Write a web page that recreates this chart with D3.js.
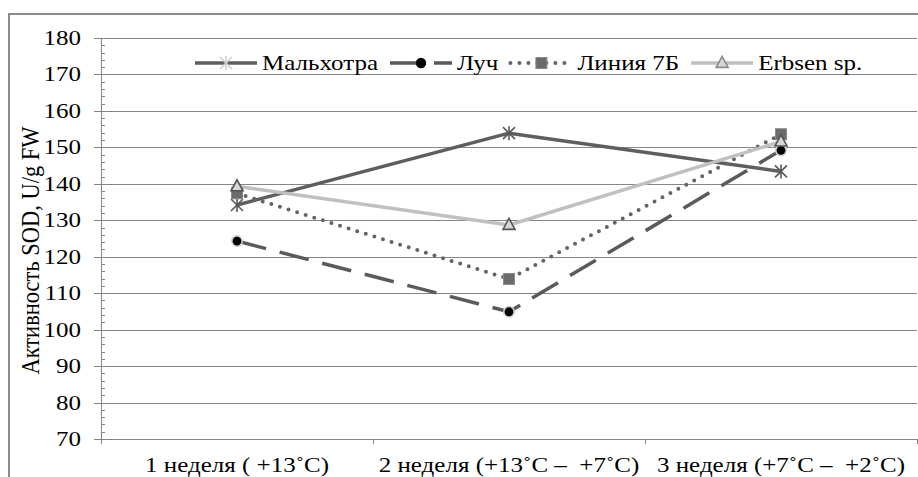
<!DOCTYPE html>
<html><head><meta charset="utf-8">
<script src="https://cdn.jsdelivr.net/npm/d3@7"></script>
<style>
body{margin:0;background:#fff}
text{font-family:"Liberation Serif","Times New Roman",serif;fill:#000;white-space:pre}
</style>
</head><body>
<svg id="chart" width="918" height="477"></svg>
<script>
// Weeks of cold exposure (categories)
const weeks = ["1 неделя ( +13˚C)", "2 неделя (+13˚C –  +7˚C)", "3 неделя (+7˚C –  +2˚C)"];
// SOD activity, U/g FW, per variety
const malkhotra = [134.2, 153.9, 143.4];
const luch      = [124.3, 104.9, 149.2];
const liniya7b  = [137.4, 113.9, 153.6];
const erbsen    = [139.3, 128.7, 151.6];
const seriesNames = ["Мальхотра", "Луч", "Линия 7Б", "Erbsen sp."];
const yTicks = [70, 80, 90, 100, 110, 120, 130, 140, 150, 160, 170, 180];
const yTitle = "Активность SOD, U/g FW";

const svg = d3.select("#chart");
const L = 101, R = 917, T = 38, B = 439;
const FS = 20.5, SX = 1.22;   // font size and horizontal glyph stretch

const x = d3.scaleBand().domain(weeks).range([L, R]);
const y = d3.scaleLinear().domain([70, 180]).range([B, T]);
const cx = d => x(d) + x.bandwidth() / 2;

// outer frame
svg.append("rect").attr("x", 9).attr("y", 14).attr("width", 1000).attr("height", 1000)
  .attr("fill", "none").attr("stroke", "#8c8c8c").attr("stroke-width", 2);

const axisCol = "#868686";
// gridlines
svg.append("g").selectAll("line").data(yTicks.filter(v => v !== 70)).join("line")
  .attr("x1", L).attr("x2", R)
  .attr("y1", d => Math.round(y(d)) + 0.5).attr("y2", d => Math.round(y(d)) + 0.5)
  .attr("stroke", axisCol).attr("stroke-width", 1);

// y axis
const ya = svg.append("g");
ya.append("line").attr("x1", L + 0.5).attr("x2", L + 0.5).attr("y1", T).attr("y2", B + 5)
  .attr("stroke", axisCol);
ya.selectAll("line.maj").data(yTicks).join("line").attr("class", "maj")
  .attr("x1", L - 7).attr("x2", L)
  .attr("y1", d => Math.round(y(d)) + 0.5).attr("y2", d => Math.round(y(d)) + 0.5)
  .attr("stroke", axisCol);
ya.selectAll("line.min").data(d3.range(72, 180, 2).filter(v => v % 10 !== 0)).join("line").attr("class", "min")
  .attr("x1", L).attr("x2", L + 4)
  .attr("y1", d => Math.round(y(d)) + 0.5).attr("y2", d => Math.round(y(d)) + 0.5)
  .attr("stroke", axisCol);
ya.selectAll("text").data(yTicks).join("text")
  .attr("transform", d => `translate(81,${y(d)}) scale(${SX},1)`)
  .attr("dy", "0.34em").attr("text-anchor", "end").attr("font-size", FS)
  .text(d => d);

// x axis
const xa = svg.append("g");
xa.append("line").attr("x1", L).attr("x2", R).attr("y1", B + 0.5).attr("y2", B + 0.5).attr("stroke", axisCol);
const bounds = weeks.map(w => x(w)).concat([R]);
xa.selectAll("line.t").data(bounds).join("line").attr("class", "t")
  .attr("x1", d => Math.round(d) + 0.5).attr("x2", d => Math.round(d) + 0.5)
  .attr("y1", B).attr("y2", B + 5).attr("stroke", axisCol);
xa.selectAll("text").data(weeks).join("text")
  .attr("transform", d => `translate(${cx(d)},472) scale(${SX},1)`)
  .attr("text-anchor", "middle").attr("font-size", FS)
  .text(d => d);

// y title
svg.append("text")
  .attr("transform", `translate(39,${(T + B) / 2 + 12}) rotate(-90) scale(1,1.15)`)
  .attr("text-anchor", "middle").attr("font-size", 22.5)
  .text(yTitle);

// series definitions
const series = [
  {name: seriesNames[0], values: malkhotra, color: "#5e5e5e", dash: null, cap: "butt", marker: "star"},
  {name: seriesNames[1], values: luch, color: "#5a5a5a", dash: "30,14", cap: "butt", marker: "circle"},
  {name: seriesNames[2], values: liniya7b, color: "#646464", dash: "0,9", cap: "round", marker: "square"},
  {name: seriesNames[3], values: erbsen, color: "#c0c0c0", dash: null, cap: "butt", marker: "triangle"}
];

const line = d3.line().x((v, i) => cx(weeks[i])).y(v => y(v));

function drawMarker(g, type, px, py, legend) {
  if (type === "star") {
    const s = 6;
    g.append("path")
      .attr("d", `M${px - s},${py - s}L${px + s},${py + s}M${px - s},${py + s}L${px + s},${py - s}M${px},${py - s - 1}L${px},${py + s + 1}`)
      .attr("stroke", legend ? "#d0d0d0" : "#585858").attr("stroke-width", 1.6).attr("fill", "none");
  } else if (type === "circle") {
    g.append("circle").attr("cx", px).attr("cy", py).attr("r", 5.2)
      .attr("fill", "#000").attr("stroke", legend ? "none" : "#cfcfcf").attr("stroke-width", 1.6);
  } else if (type === "square") {
    g.append("rect").attr("x", px - 5.5).attr("y", py - 5.5).attr("width", 11).attr("height", 11)
      .attr("fill", "#6b6b6b").attr("stroke", "#8a8a8a").attr("stroke-width", 1);
  } else if (type === "triangle") {
    const h = 11, w = 12;
    g.append("path")
      .attr("d", `M${px},${py - h * 0.6}L${px + w / 2},${py + h * 0.4}L${px - w / 2},${py + h * 0.4}Z`)
      .attr("fill", "#d6d6d6").attr("stroke", legend ? "#8a8a8a" : "#555").attr("stroke-width", 1.6);
  }
}

// lines
const lg = svg.append("g");
series.forEach(s => {
  lg.append("path").attr("d", line(s.values)).attr("fill", "none")
    .attr("stroke", s.color).attr("stroke-width", s.marker === "square" ? 4 : 3.5)
    .attr("stroke-dasharray", s.dash).attr("stroke-linecap", s.cap)
    .attr("stroke-linejoin", "round");
});
// markers
const mg = svg.append("g");
series.forEach(s => {
  s.values.forEach((v, i) => drawMarker(mg, s.marker, cx(weeks[i]), y(v), false));
});

// legend
const leg = svg.append("g");
let lx = 195;
const ly = 63, sampleLen = 62;
series.forEach(s => {
  leg.append("line").attr("x1", lx).attr("x2", lx + sampleLen).attr("y1", ly).attr("y2", ly)
    .attr("stroke", s.color).attr("stroke-width", s.marker === "square" ? 4 : 3.5)
    .attr("stroke-dasharray", s.dash).attr("stroke-linecap", s.cap);
  drawMarker(leg, s.marker, lx + sampleLen / 2, ly, true);
  const t = leg.append("text")
    .attr("transform", `translate(${lx + sampleLen + 5},${ly + 6.5}) scale(${SX},1)`)
    .attr("font-size", FS).text(s.name);
  const w = t.node().getComputedTextLength() * SX;
  lx += sampleLen + 5 + w + 12;
});
</script>
</body></html>
